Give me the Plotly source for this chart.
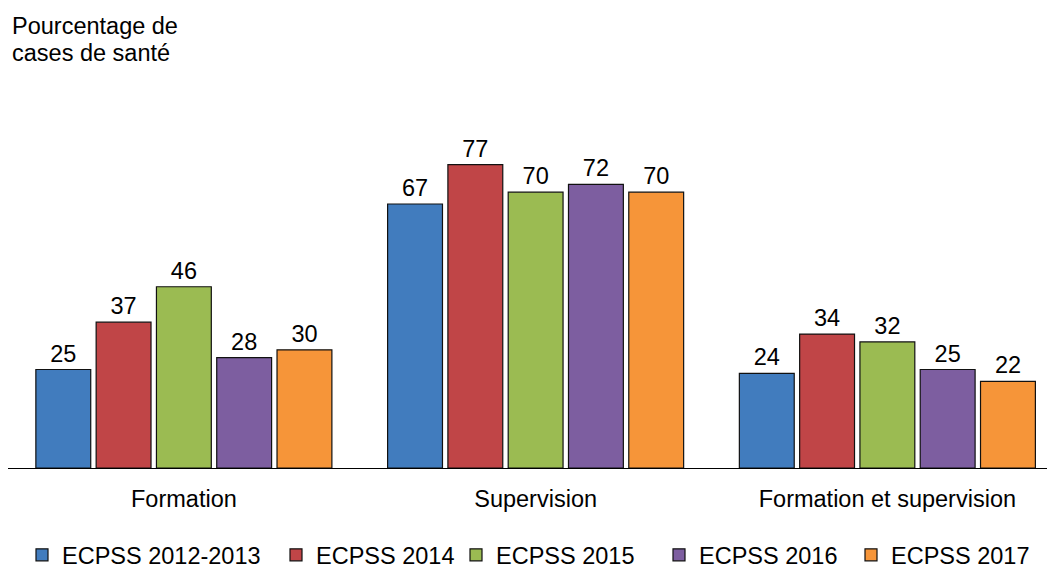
import plotly.graph_objects as go

# Catégories et séries (pourcentage de cases de santé)
categories = ["Formation", "Supervision", "Formation et supervision"]
series_names = ["ECPSS 2012-2013", "ECPSS 2014", "ECPSS 2015", "ECPSS 2016", "ECPSS 2017"]
ecpss_2012_2013 = [25, 67, 24]
ecpss_2014 = [37, 77, 34]
ecpss_2015 = [46, 70, 32]
ecpss_2016 = [28, 72, 25]
ecpss_2017 = [30, 70, 22]

series_values = [ecpss_2012_2013, ecpss_2014, ecpss_2015, ecpss_2016, ecpss_2017]
colors = ["#417CBE", "#C04547", "#9BBB52", "#7D5EA0", "#F69539"]

FONT = "Liberation Sans, Arial, sans-serif"
FS = 23.5
W, H = 1047, 570
ML, MR, MT, MB = 8, 0, 74, 102

# Left edge of each legend entry's text (px)
legend_text_x = [62, 316, 496, 699, 891]

fig = go.Figure()
for i, (name, vals, col) in enumerate(zip(series_names, series_values, colors)):
    fig.add_trace(go.Bar(
        x=categories,
        y=vals,
        name=name,
        marker=dict(color=col, line=dict(color="#111111", width=1.2)),
        text=vals,
        texttemplate="%{text}",
        textposition="outside",
        textfont=dict(family=FONT, size=FS, color="#000000"),
        cliponaxis=False,
        legend="legend" if i == 0 else f"legend{i + 1}",
    ))

layout_legends = {}
for i, tx in enumerate(legend_text_x):
    key = "legend" if i == 0 else f"legend{i + 1}"
    layout_legends[key] = dict(
        xref="container", yref="container",
        x=(tx - 40) / W, xanchor="left",
        y=15 / H, yanchor="middle",
        orientation="h",
        font=dict(family=FONT, size=FS, color="#000000"),
        bgcolor="rgba(0,0,0,0)",
        borderwidth=0,
    )

plot_w = W - ML - MR
cat_px = 351.75  # pixel width of one category slot

fig.update_layout(
    width=W, height=H,
    margin=dict(l=ML, r=MR, t=MT, b=MB, pad=0),
    paper_bgcolor="white",
    plot_bgcolor="white",
    barmode="group",
    bargap=0.143,
    bargroupgap=0.09,
    showlegend=True,
    font=dict(family=FONT, size=FS, color="#000000"),
    xaxis=dict(
        range=[-0.5, -0.5 + plot_w / cat_px],
        showline=True, linecolor="#000000", linewidth=1.3,
        ticks="", showgrid=False, zeroline=False,
        tickfont=dict(family=FONT, size=FS, color="#000000"),
        ticklabelstandoff=10,
    ),
    yaxis=dict(
        range=[0, 100], visible=False, showgrid=False, zeroline=False,
    ),
    annotations=[
        dict(text="Pourcentage de", xref="paper", yref="paper",
             x=(10 - ML) / plot_w, y=(468 - 26) / 394,
             xanchor="left", yanchor="middle", showarrow=False,
             font=dict(family=FONT, size=FS, color="#000000")),
        dict(text="cases de santé", xref="paper", yref="paper",
             x=(10 - ML) / plot_w, y=(468 - 53) / 394,
             xanchor="left", yanchor="middle", showarrow=False,
             font=dict(family=FONT, size=FS, color="#000000")),
    ],
    **layout_legends,
)

fig.write_html("out.html")
